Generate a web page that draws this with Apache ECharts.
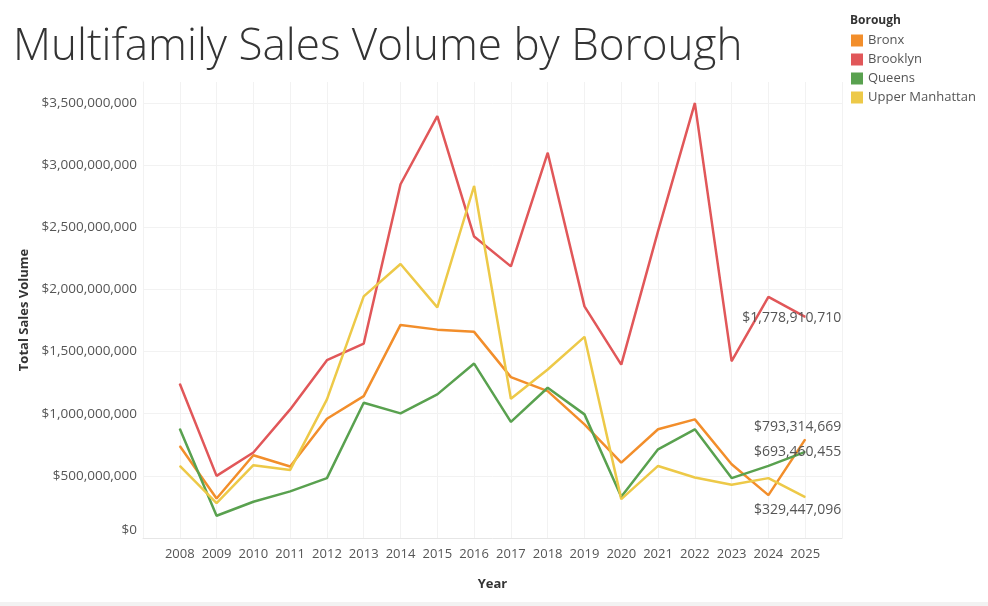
<!DOCTYPE html>
<html>
<head>
<meta charset="utf-8">
<title>Multifamily Sales Volume by Borough</title>
<script src="https://cdn.jsdelivr.net/npm/echarts@6/dist/echarts.min.js"></script>
<style>
  html, body { margin: 0; padding: 0; background: #fff; }
  #chart { width: 988px; height: 606px; }
</style>
</head>
<body>
<div id="chart"></div>
<script>
// values, in dollars
const years = [2008, 2009, 2010, 2011, 2012, 2013, 2014, 2015, 2016, 2017, 2018, 2019, 2020, 2021, 2022, 2023, 2024, 2025];
const bronx = [741e6, 318e6, 666e6, 575e6, 960e6, 1142e6, 1715e6, 1677e6, 1659e6, 1295e6, 1182e6, 915e6, 607e6, 875e6, 955e6, 594e6, 345e6, 793314669];
const brooklyn = [1241e6, 500e6, 688e6, 1035e6, 1431e6, 1565e6, 2847e6, 3395e6, 2426e6, 2186e6, 3100e6, 1864e6, 1396e6, 2470e6, 3500e6, 1423e6, 1940e6, 1778910710];
const queens = [880e6, 179e6, 292e6, 375e6, 482e6, 1089e6, 1003e6, 1156e6, 1404e6, 934e6, 1209e6, 995e6, 332e6, 714e6, 875e6, 482e6, 580e6, 693460455];
const upperManhattan = [580e6, 281e6, 586e6, 548e6, 1116e6, 1945e6, 2205e6, 1856e6, 2833e6, 1121e6, 1356e6, 1619e6, 313e6, 580e6, 487e6, 428e6, 482e6, 329447096];

const colors = { Bronx: '#f28e2b', Brooklyn: '#e15759', Queens: '#59a14f', 'Upper Manhattan': '#edc948' };
const font = '"Open Sans", sans-serif';

const money = (v) => '$' + Math.round(v).toLocaleString('en-US');

// line with a value label on the last point only
const makeSeries = (name, values, labelDy) => ({
  name,
  type: 'line',
  symbol: 'circle',
  symbolSize: 1,
  lineStyle: { width: 2.5, color: colors[name] },
  itemStyle: { color: colors[name] },
  label: { show: false },
  data: values.map((v, i) => {
    const point = { value: [years[i], v] };
    if (i === values.length - 1) {
      point.label = {
        show: true,
        position: 'inside',
        align: 'right',
        verticalAlign: 'middle',
        offset: [36, labelDy],
        formatter: (p) => money(p.value[1]),
        fontFamily: font,
        fontSize: 14,
        color: '#555',
      };
    }
    return point;
  }),
});

const chart = echarts.init(document.getElementById('chart'));
chart.setOption({
  animation: false,
  textStyle: { fontFamily: font },
  grid: { left: 143, right: 146, top: 82, bottom: 68 },
  title: {
    text: 'Multifamily Sales Volume by Borough',
    left: 8,
    top: 20,
    textStyle: { fontFamily: font, fontSize: 44, fontWeight: 300, color: '#333' },
  },
  legend: {
    orient: 'vertical',
    left: 846,
    top: 29,
    icon: 'rect',
    itemWidth: 12,
    itemHeight: 12,
    itemGap: 6,
    textStyle: { fontFamily: font, fontSize: 13, color: '#555' },
    data: ['Bronx', 'Brooklyn', 'Queens', 'Upper Manhattan'],
  },
  graphic: [
    {
      type: 'text',
      left: 850,
      top: 15,
      style: { text: 'Borough', font: 'bold 12px ' + font, fill: '#333' },
    },
    {
      type: 'rect',
      left: 0,
      top: 602,
      shape: { width: 988, height: 4 },
      style: { fill: '#f2f2f2' },
    },
  ],
  xAxis: {
    type: 'value',
    min: 2007,
    max: 2026,
    interval: 1,
    name: 'Year',
    nameLocation: 'middle',
    nameGap: 40,
    nameTextStyle: { fontFamily: font, fontSize: 13, fontWeight: 'bold', color: '#333' },
    axisLine: { show: true, lineStyle: { color: '#e6e6e6' } },
    axisTick: { show: false },
    axisLabel: {
      fontFamily: font,
      fontSize: 13,
      color: '#555',
      margin: 10,
      formatter: (v) => (years.includes(v) ? String(v) : ''),
    },
    splitLine: { show: true, lineStyle: { color: '#f2f2f2' } },
  },
  yAxis: {
    type: 'value',
    min: 0,
    max: 3670000000,
    interval: 500000000,
    name: 'Total Sales Volume',
    nameLocation: 'middle',
    nameGap: 112,
    nameTextStyle: { fontFamily: font, fontSize: 13, fontWeight: 'bold', color: '#333' },
    axisLine: { show: true, lineStyle: { color: '#f2f2f2' } },
    axisTick: { show: false },
    axisLabel: {
      fontFamily: font,
      fontSize: 13.5,
      color: '#555',
      margin: 6,
      showMaxLabel: false,
      // the $0 label sits a little above its gridline
      formatter: (v) => (v === 0 ? '{z|$0}' : money(v)),
      rich: { z: { fontFamily: font, fontSize: 13.5, color: '#555', padding: [0, 0, 16, 0] } },
    },
    splitLine: { show: true, showMaxLine: false, lineStyle: { color: '#f2f2f2' } },
  },
  series: [
    makeSeries('Bronx', bronx, -12),
    makeSeries('Brooklyn', brooklyn, 1),
    makeSeries('Queens', queens, 0),
    makeSeries('Upper Manhattan', upperManhattan, 13),
  ],
});
</script>
</body>
</html>
